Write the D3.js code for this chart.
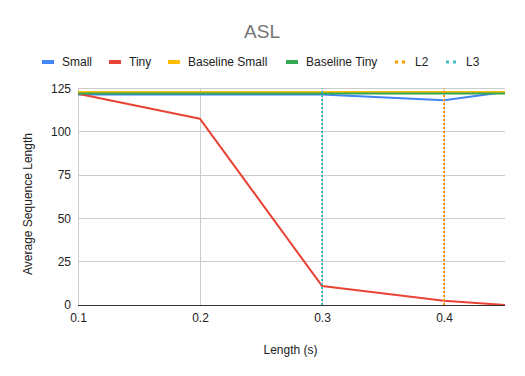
<!DOCTYPE html>
<html><head><meta charset="utf-8">
<script src="https://cdn.jsdelivr.net/npm/d3@7"></script>
<style>body{margin:0;background:#fff}svg{display:block;font-family:"Liberation Sans",Arial,sans-serif}</style>
</head><body><svg id="c" width="525" height="376"></svg>
<script>
const xValues = [0.1, 0.2, 0.3, 0.4, 0.45];
const small = [121.5, 121.5, 121.6, 118.2, 123.0];
const tiny = [122, 107.5, 11, 2.5, 0];
const baselineSmall = [123.0, 123.0, 123.0, 123.0, 123.0];
const baselineTiny = [122.1, 122.1, 122.1, 122.1, 122.1];
const l2X = 0.4;
const l3X = 0.3;
const yTicks = [0, 25, 50, 75, 100, 125];
const xTicks = [0.1, 0.2, 0.3, 0.4];
const seriesNames = ["Small", "Tiny", "Baseline Small", "Baseline Tiny", "L2", "L3"];
const colors = ["#4285f4", "#ea4335", "#fbbc04", "#34a853", "#ff9900", "#46bdc6"];

const svg = d3.select("#c");
const L = 78, R = 505, T = 88.5, B = 305;
const x = d3.scaleLinear().domain([0.1, 0.45]).range([L, R]);
const y = d3.scaleLinear().domain([0, 125]).range([B, T]);
const FS = 12;

svg.append("text").attr("x", 262).attr("y", 38).attr("text-anchor", "middle")
  .attr("font-size", 19).attr("fill", "#757575").text("ASL");

// grid
const g = svg.append("g");
g.selectAll(".hg").data(yTicks.filter(d => d > 0)).join("line")
  .attr("x1", L).attr("x2", R).attr("y1", d => y(d)).attr("y2", d => y(d))
  .attr("stroke", "#cccccc").attr("stroke-width", 1).attr("shape-rendering", "crispEdges");
g.selectAll(".vg").data(xTicks).join("line")
  .attr("x1", d => x(d)).attr("x2", d => x(d)).attr("y1", T).attr("y2", B)
  .attr("stroke", "#cccccc").attr("stroke-width", 1).attr("shape-rendering", "crispEdges");

const yAxis = svg.append("g").attr("transform", `translate(${L},0)`)
  .call(d3.axisLeft(y).tickValues(yTicks).tickSize(0).tickPadding(7).tickFormat(d3.format("d")));
yAxis.select(".domain").remove();
yAxis.selectAll("text").attr("font-size", FS).attr("fill", "#222").attr("font-family", "Liberation Sans, Arial, sans-serif");

const xAxis = svg.append("g").attr("transform", `translate(0,${B})`)
  .call(d3.axisBottom(x).tickValues(xTicks).tickSize(0).tickPadding(8).tickFormat(d3.format(".1f")));
xAxis.select(".domain").remove();
xAxis.selectAll("text").attr("font-size", FS).attr("fill", "#222").attr("font-family", "Liberation Sans, Arial, sans-serif");

svg.append("text").attr("x", 290.5).attr("y", 354).attr("text-anchor", "middle")
  .attr("font-size", FS).attr("fill", "#222").text("Length (s)");
svg.append("text").attr("transform", "translate(31.5,204) rotate(-90)").attr("text-anchor", "middle")
  .attr("font-size", FS).attr("fill", "#222").text("Average Sequence Length");

// lines
const line = d3.line().x((d, i) => x(xValues[i])).y(d => y(d));
const data = [small, tiny, baselineSmall, baselineTiny];
data.forEach((s, i) => {
  svg.append("path").datum(s).attr("d", line).attr("fill", "none")
    .attr("stroke", colors[i]).attr("stroke-width", 2).attr("stroke-linejoin", "round");
});
[[l2X, 4], [l3X, 5]].forEach(([v, i]) => {
  svg.append("line").attr("x1", x(v)).attr("x2", x(v)).attr("y1", y(0)).attr("y2", y(125))
    .attr("stroke", colors[i]).attr("stroke-width", 2).attr("stroke-dasharray", "2,2");
});

svg.append("line").attr("x1", L).attr("x2", R).attr("y1", B + 0.5).attr("y2", B + 0.5)
  .attr("stroke", "#333").attr("stroke-width", 1);

// legend
const legendX = [42, 109, 168, 286, 395, 446];
const lg = svg.append("g");
seriesNames.forEach((n, i) => {
  const dotted = i >= 4;
  lg.append("line").attr("x1", legendX[i]).attr("x2", legendX[i] + 12).attr("y1", 62).attr("y2", 62)
    .attr("stroke", colors[i]).attr("stroke-width", dotted ? 3 : 4)
    .attr("stroke-dasharray", dotted ? "3,4" : null);
  lg.append("text").attr("x", legendX[i] + 20).attr("y", 66).attr("font-size", FS)
    .attr("fill", "#222").text(n);
});
</script></body></html>
